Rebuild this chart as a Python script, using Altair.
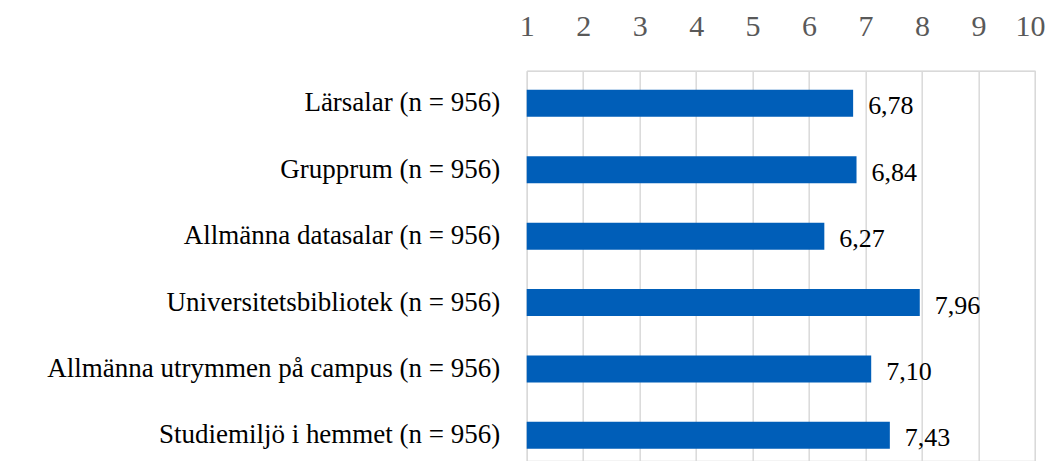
import altair as alt
import pandas as pd

categories = [
    "Lärsalar (n = 956)",
    "Grupprum (n = 956)",
    "Allmänna datasalar (n = 956)",
    "Universitetsbibliotek (n = 956)",
    "Allmänna utrymmen på campus (n = 956)",
    "Studiemiljö i hemmet (n = 956)",
]
values = [6.78, 6.84, 6.27, 7.96, 7.10, 7.43]
x_ticks = [1, 2, 3, 4, 5, 6, 7, 8, 9, 10]

df = pd.DataFrame({
    "cat": categories,
    "val": values,
    "label": [f"{v:.2f}".replace(".", ",") for v in values],
})

FONT = "Liberation Serif"
BLUE = "#005EB8"
GRID = "#d9d9d9"

x_scale = alt.Scale(domain=[1, 10], nice=False, zero=False)
y_scale = alt.Scale(paddingInner=0.593, paddingOuter=0.288, range=[0, 397.3])

base = alt.Chart(df)

bars = base.mark_bar(color=BLUE).encode(
    x=alt.X("val:Q", scale=x_scale,
            axis=alt.Axis(orient="top", values=x_ticks, title=None, format="d",
                          ticks=False, tickSize=0, labelPadding=35,
                          labelBaseline="alphabetic",
                          labelOffset={"condition": {"test": "datum.value == 10", "value": -5}, "value": 0},
                          labelFont=FONT, labelFontSize=30, labelColor="#595959",
                          domain=True, domainColor=GRID, domainWidth=1.5,
                          grid=True, gridColor=GRID, gridWidth=1.5,
                          labelFlush=False, labelOverlap=False)),
    x2=alt.datum(1),
    y=alt.Y("cat:N", sort=categories, scale=y_scale,
            axis=alt.Axis(title=None, ticks=False, domain=False,
                          labelPadding=27, labelLimit=800,
                          labelFont=FONT, labelFontSize=27, labelColor="#000000")),
)

text = base.mark_text(align="left", baseline="middle", dx=15, dy=3,
                      font=FONT, fontSize=26, color="#000000").encode(
    x=alt.X("val:Q", scale=x_scale),
    y=alt.Y("cat:N", sort=categories, scale=y_scale),
    text="label:N",
)

chart = (bars + text).properties(
    width=508.3,
    height=390,
    autosize=alt.AutoSizeParams(type="none"),
    padding={"left": 518.7, "top": 62.7, "right": 11, "bottom": 0},
).configure_view(stroke=None).configure(background="white")

chart.save("out.html", embed_options={"renderer": "svg", "actions": False})
